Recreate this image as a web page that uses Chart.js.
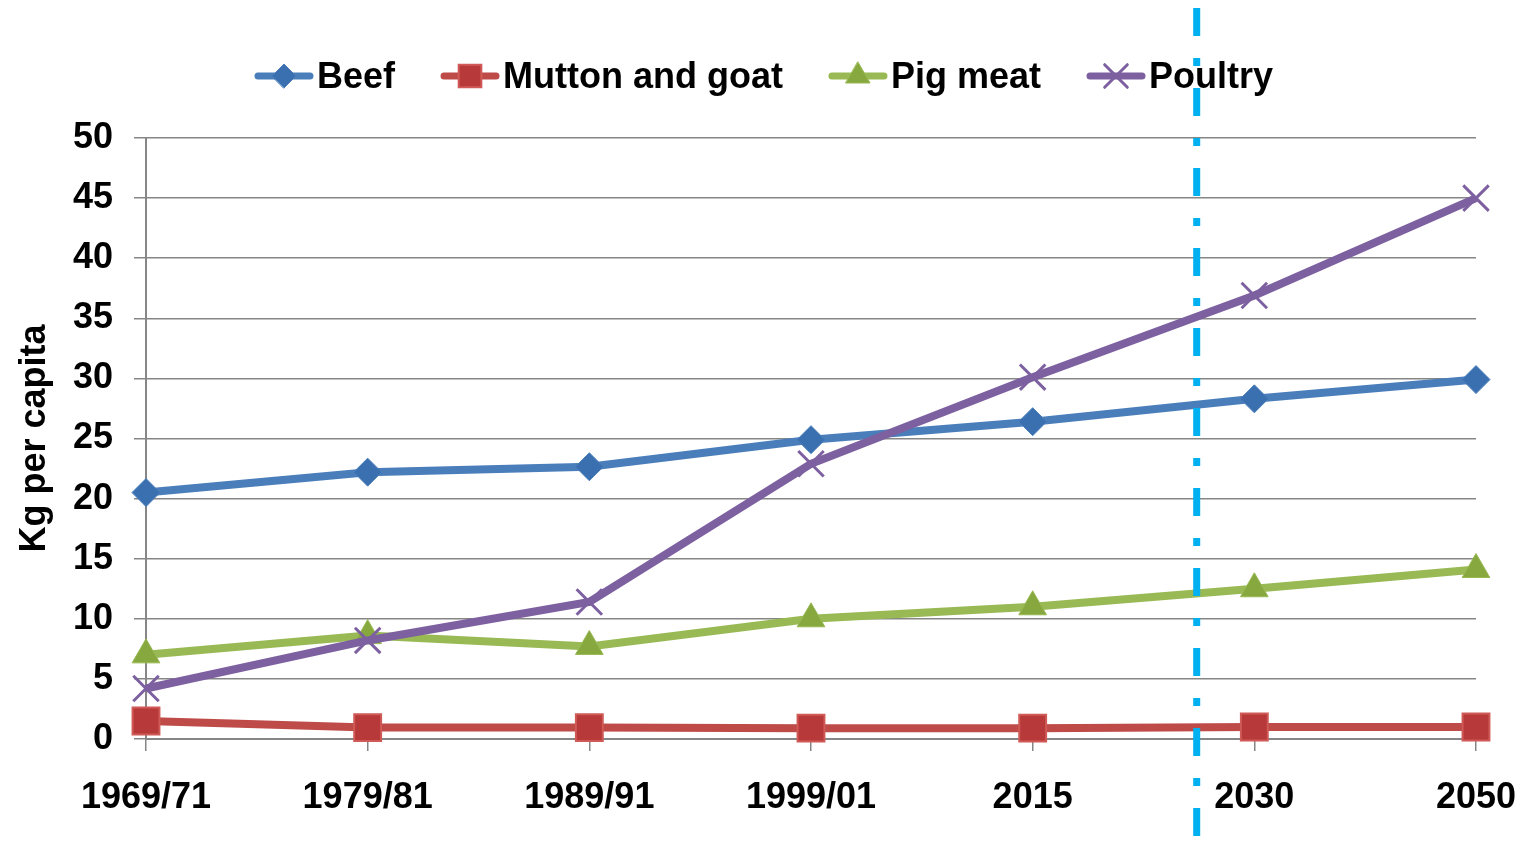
<!DOCTYPE html>
<html>
<head>
<meta charset="utf-8">
<script src="https://cdn.jsdelivr.net/npm/chart.js@4.4.1/dist/chart.umd.min.js"></script>
<style>
  html, body { margin: 0; padding: 0; background: #fff; }
  #wrap { width: 1521px; height: 842px; position: relative; }
</style>
</head>
<body>
<div id="wrap"><canvas id="meatChart"></canvas></div>
<script>
// data
const periods = ["1969/71", "1979/81", "1989/91", "1999/01", "2015", "2030", "2050"];
const beef = [20.5, 22.2, 22.65, 24.9, 26.4, 28.3, 29.9];
const muttonGoat = [1.5, 0.95, 0.95, 0.9, 0.9, 1.0, 1.0];
const pigMeat = [7.0, 8.6, 7.7, 10.0, 11.0, 12.5, 14.1];
const poultry = [4.2, 8.2, 11.4, 22.9, 30.1, 36.9, 45.0];
const yTicks = [0, 5, 10, 15, 20, 25, 30, 35, 40, 45, 50];
// projection marker sits between 2015 and 2030 (category index)
const projectionAt = 4.74;

const FONT = "'Liberation Sans', Arial, sans-serif";

// vertical dash-dot line, drawn over the series
const projectionLine = {
  id: 'projectionLine',
  afterDatasetsDraw(chart) {
    const ctx = chart.ctx;
    const x = chart.scales.x.getPixelForValue(projectionAt);
    ctx.save();
    ctx.strokeStyle = '#00b0f0';
    ctx.lineWidth = 7;
    ctx.setLineDash([28, 22, 8, 22]);
    ctx.beginPath();
    ctx.moveTo(x, 8);
    ctx.lineTo(x, chart.height);
    ctx.stroke();
    ctx.restore();
  }
};

// legend with line sample + marker, like the office style
const lineLegend = {
  id: 'lineLegend',
  afterDraw(chart) {
    const ctx = chart.ctx;
    const sets = chart.data.datasets;
    const sampleW = 58, textGap = 4, itemGap = 46, y = 76;
    ctx.save();
    ctx.font = "bold 36px " + FONT;
    const widths = sets.map(d => ctx.measureText(d.label).width);
    let total = sets.length * (sampleW + textGap) + itemGap * (sets.length - 1);
    widths.forEach(w => total += w);
    let x = 764 - total / 2;
    sets.forEach((d, i) => {
      ctx.strokeStyle = d.borderColor;
      ctx.lineWidth = 7;
      ctx.lineCap = 'round';
      ctx.beginPath();
      ctx.moveTo(x + 3, y);
      ctx.lineTo(x + sampleW - 3, y);
      ctx.stroke();
      ctx.fillStyle = d.pointBackgroundColor;
      ctx.strokeStyle = d.pointBorderColor;
      ctx.lineWidth = d.pointBorderWidth;
      ctx.beginPath();
      Chart.helpers.drawPoint(ctx, {
        pointStyle: d.pointStyle,
        radius: d.legendRadius,
        rotation: 0,
        borderWidth: d.pointBorderWidth
      }, x + sampleW / 2, y);
      ctx.fillStyle = '#000';
      ctx.textBaseline = 'middle';
      ctx.textAlign = 'left';
      ctx.fillText(d.label, x + sampleW + textGap, y + 2);
      x += sampleW + textGap + widths[i] + itemGap;
    });
    ctx.restore();
  }
};

const canvas = document.getElementById('meatChart');

new Chart(canvas, {
  type: 'line',
  data: {
    labels: periods,
    datasets: [
      {
        label: 'Beef',
        data: beef,
        borderColor: '#4a7ebb',
        pointStyle: 'rectRot',
        pointRadius: 14,
        legendRadius: 12,
        pointBackgroundColor: '#3a6fb0',
        pointBorderColor: '#4a7ebb',
        pointBorderWidth: 1,
        order: 3
      },
      {
        label: 'Mutton and goat',
        data: muttonGoat,
        borderColor: '#be4b48',
        pointStyle: 'rect',
        pointRadius: 19,
        legendRadius: 16,
        pointBackgroundColor: '#b8393a',
        pointBorderColor: '#cf5a56',
        pointBorderWidth: 2,
        order: 2
      },
      {
        label: 'Pig meat',
        data: pigMeat,
        borderColor: '#98b954',
        pointStyle: 'triangle',
        pointRadius: 16,
        legendRadius: 14,
        pointBackgroundColor: '#86a83f',
        pointBorderColor: '#98b954',
        pointBorderWidth: 1,
        order: 1
      },
      {
        label: 'Poultry',
        data: poultry,
        borderColor: '#7d60a0',
        pointStyle: 'crossRot',
        pointRadius: 18,
        legendRadius: 16,
        pointBackgroundColor: '#7d60a0',
        pointBorderColor: '#7d60a0',
        pointBorderWidth: 3,
        order: 0
      }
    ].map(d => Object.assign({
      borderWidth: 8,
      tension: 0,
      fill: false,
      clip: false,
      pointHoverRadius: d.pointRadius
    }, d))
  },
  options: {
    responsive: true,
    maintainAspectRatio: false,
    animation: false,
    layout: {
      padding: { top: 138, right: 45, bottom: 0, left: 0 }
    },
    plugins: {
      legend: { display: false },
      tooltip: { enabled: false }
    },
    scales: {
      x: {
        offset: false,
        afterFit(scale) {
          scale.height = 103;
          scale.paddingLeft = 0;
          scale.paddingRight = 0;
        },
        border: { display: true, color: '#868686', width: 2 },
        grid: {
          display: true,
          drawOnChartArea: false,
          drawTicks: true,
          tickLength: 12,
          color: '#868686',
          lineWidth: 1.5
        },
        ticks: {
          color: '#000',
          padding: 25,
          maxRotation: 0,
          autoSkip: false,
          font: { family: FONT, size: 36, weight: 'bold' }
        }
      },
      y: {
        min: 0,
        max: 50,
        afterBuildTicks(scale) {
          scale.ticks = yTicks.map(v => ({ value: v }));
        },
        afterFit(scale) {
          scale.width = 146;
        },
        border: { display: true, color: '#868686', width: 2 },
        grid: {
          color: '#868686',
          lineWidth: 1.5,
          tickLength: 12
        },
        ticks: {
          color: '#000',
          padding: 21,
          font: { family: FONT, size: 36, weight: 'bold' }
        },
        title: {
          display: true,
          text: 'Kg per capita',
          color: '#000',
          padding: { top: 13, bottom: 0 },
          font: { family: FONT, size: 36, weight: 'bold' }
        }
      }
    }
  },
  plugins: [projectionLine, lineLegend]
});
</script>
</body>
</html>
